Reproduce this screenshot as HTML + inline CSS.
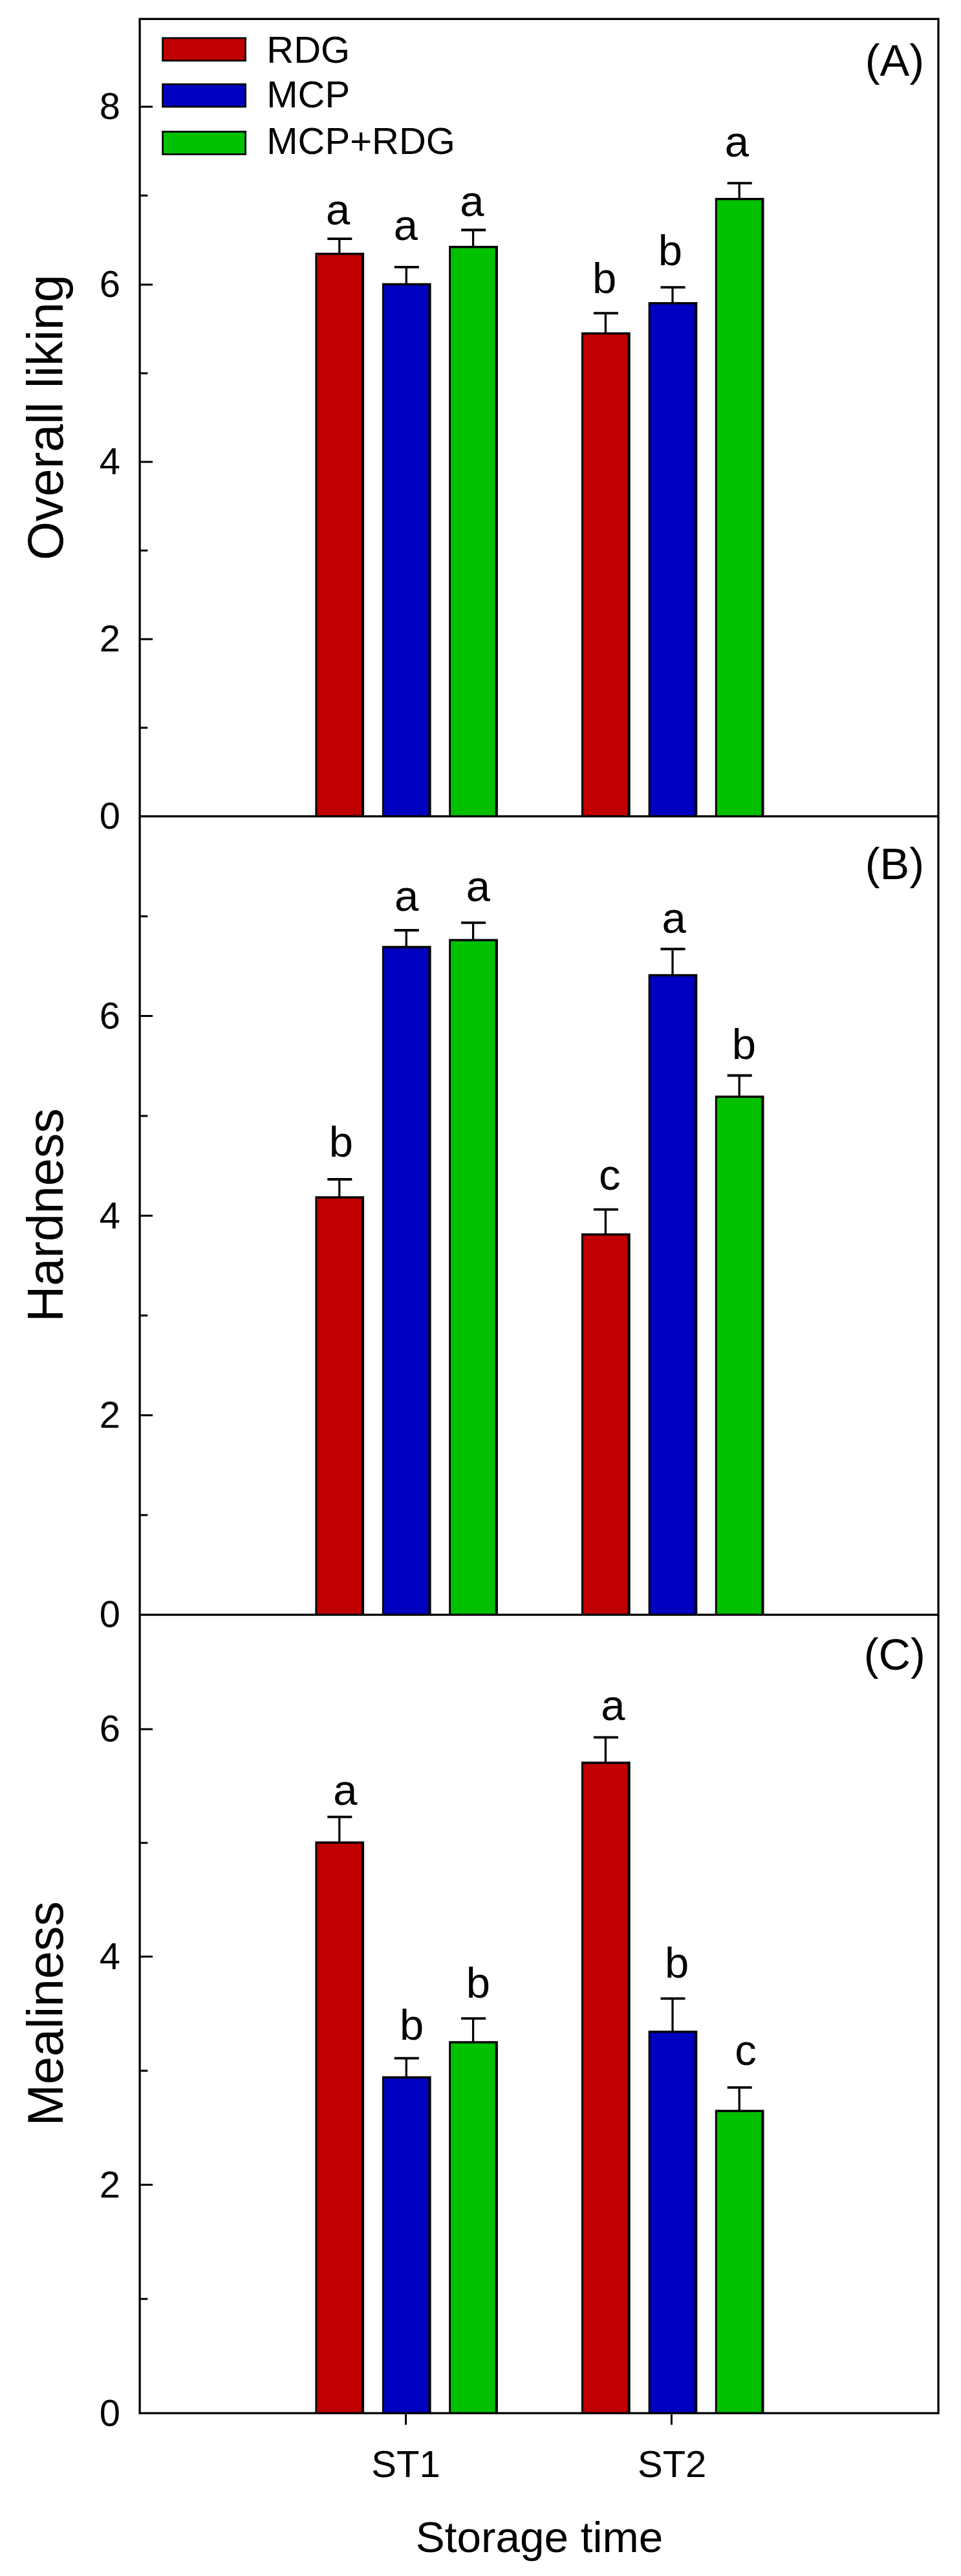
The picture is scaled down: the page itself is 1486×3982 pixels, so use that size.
<!DOCTYPE html>
<html lang="en"><head><meta charset="utf-8"><title>Sensory scores by storage time</title>
<style>html,body{margin:0;padding:0;background:#fff}svg{display:block;filter:blur(0.55px)}</style></head>
<body>
<svg width="1486" height="3982" viewBox="0 0 1486 3982" font-family="'Liberation Sans', Arial, sans-serif" fill="#000" style="font-kerning:none;font-variant-ligatures:none">
<rect x="0" y="0" width="1486" height="3982" fill="#fff"/>
<rect x="487.40" y="390.70" width="75.70" height="871.10" fill="#000"/>
<rect x="490.30" y="394.20" width="68.60" height="867.60" fill="#C00000"/>
<path d="M524.80 391.70V368.70" stroke="#000" stroke-width="3.3" fill="none"/>
<path d="M506.30 369.20H544.30" stroke="#000" stroke-width="3.8" fill="none"/>
<text x="522.70" y="347.30" font-size="67" text-anchor="middle">a</text>
<rect x="590.90" y="437.70" width="75.70" height="824.10" fill="#000"/>
<rect x="593.80" y="441.20" width="68.60" height="820.60" fill="#0000C0"/>
<path d="M628.30 438.70V412.30" stroke="#000" stroke-width="3.3" fill="none"/>
<path d="M609.80 412.80H647.80" stroke="#000" stroke-width="3.8" fill="none"/>
<text x="627.50" y="370.60" font-size="67" text-anchor="middle">a</text>
<rect x="694.20" y="380.00" width="75.70" height="881.80" fill="#000"/>
<rect x="697.10" y="383.50" width="68.60" height="878.30" fill="#00C000"/>
<path d="M731.60 381.00V355.00" stroke="#000" stroke-width="3.3" fill="none"/>
<path d="M713.10 355.50H751.10" stroke="#000" stroke-width="3.8" fill="none"/>
<text x="730.00" y="334.00" font-size="67" text-anchor="middle">a</text>
<rect x="899.00" y="513.70" width="75.70" height="748.10" fill="#000"/>
<rect x="901.90" y="517.20" width="68.60" height="744.60" fill="#C00000"/>
<path d="M936.40 514.70V483.70" stroke="#000" stroke-width="3.3" fill="none"/>
<path d="M917.90 484.20H955.90" stroke="#000" stroke-width="3.8" fill="none"/>
<text x="934.66" y="453.00" font-size="67" text-anchor="middle">b</text>
<rect x="1002.60" y="467.00" width="75.70" height="794.80" fill="#000"/>
<rect x="1005.50" y="470.50" width="68.60" height="791.30" fill="#0000C0"/>
<path d="M1040.00 468.00V443.70" stroke="#000" stroke-width="3.3" fill="none"/>
<path d="M1021.50 444.20H1059.50" stroke="#000" stroke-width="3.8" fill="none"/>
<text x="1036.26" y="410.40" font-size="67" text-anchor="middle">b</text>
<rect x="1105.80" y="305.90" width="75.70" height="955.90" fill="#000"/>
<rect x="1108.70" y="309.40" width="68.60" height="952.40" fill="#00C000"/>
<path d="M1143.20 306.90V282.60" stroke="#000" stroke-width="3.3" fill="none"/>
<path d="M1124.70 283.10H1162.70" stroke="#000" stroke-width="3.8" fill="none"/>
<text x="1139.40" y="241.60" font-size="67" text-anchor="middle">a</text>
<rect x="487.40" y="1849.20" width="75.70" height="646.90" fill="#000"/>
<rect x="490.30" y="1852.70" width="68.60" height="643.40" fill="#C00000"/>
<path d="M524.80 1850.20V1822.50" stroke="#000" stroke-width="3.3" fill="none"/>
<path d="M506.30 1823.00H544.30" stroke="#000" stroke-width="3.8" fill="none"/>
<text x="527.26" y="1788.20" font-size="67" text-anchor="middle">b</text>
<rect x="590.90" y="1462.20" width="75.70" height="1033.90" fill="#000"/>
<rect x="593.80" y="1465.70" width="68.60" height="1030.40" fill="#0000C0"/>
<path d="M628.30 1463.20V1437.50" stroke="#000" stroke-width="3.3" fill="none"/>
<path d="M609.80 1438.00H647.80" stroke="#000" stroke-width="3.8" fill="none"/>
<text x="628.70" y="1408.20" font-size="67" text-anchor="middle">a</text>
<rect x="694.20" y="1451.50" width="75.70" height="1044.60" fill="#000"/>
<rect x="697.10" y="1455.00" width="68.60" height="1041.10" fill="#00C000"/>
<path d="M731.60 1452.50V1425.90" stroke="#000" stroke-width="3.3" fill="none"/>
<path d="M713.10 1426.40H751.10" stroke="#000" stroke-width="3.8" fill="none"/>
<text x="739.40" y="1393.20" font-size="67" text-anchor="middle">a</text>
<rect x="899.00" y="1906.50" width="75.70" height="589.60" fill="#000"/>
<rect x="901.90" y="1910.00" width="68.60" height="586.10" fill="#C00000"/>
<path d="M936.40 1907.50V1869.20" stroke="#000" stroke-width="3.3" fill="none"/>
<path d="M917.90 1869.70H955.90" stroke="#000" stroke-width="3.8" fill="none"/>
<text x="942.70" y="1838.90" font-size="67" text-anchor="middle">c</text>
<rect x="1002.60" y="1505.80" width="75.70" height="990.30" fill="#000"/>
<rect x="1005.50" y="1509.30" width="68.60" height="986.80" fill="#0000C0"/>
<path d="M1040.00 1506.80V1466.50" stroke="#000" stroke-width="3.3" fill="none"/>
<path d="M1021.50 1467.00H1059.50" stroke="#000" stroke-width="3.8" fill="none"/>
<text x="1042.20" y="1441.60" font-size="67" text-anchor="middle">a</text>
<rect x="1105.80" y="1693.60" width="75.70" height="802.50" fill="#000"/>
<rect x="1108.70" y="1697.10" width="68.60" height="799.00" fill="#00C000"/>
<path d="M1143.20 1694.60V1662.00" stroke="#000" stroke-width="3.3" fill="none"/>
<path d="M1124.70 1662.50H1162.70" stroke="#000" stroke-width="3.8" fill="none"/>
<text x="1150.46" y="1637.00" font-size="67" text-anchor="middle">b</text>
<rect x="487.40" y="2846.50" width="75.70" height="883.80" fill="#000"/>
<rect x="490.30" y="2850.00" width="68.60" height="880.30" fill="#C00000"/>
<path d="M524.80 2847.50V2808.20" stroke="#000" stroke-width="3.3" fill="none"/>
<path d="M506.30 2808.70H544.30" stroke="#000" stroke-width="3.8" fill="none"/>
<text x="533.90" y="2789.60" font-size="67" text-anchor="middle">a</text>
<rect x="590.90" y="3209.50" width="75.70" height="520.80" fill="#000"/>
<rect x="593.80" y="3213.00" width="68.60" height="517.30" fill="#0000C0"/>
<path d="M628.30 3210.50V3181.20" stroke="#000" stroke-width="3.3" fill="none"/>
<path d="M609.80 3181.70H647.80" stroke="#000" stroke-width="3.8" fill="none"/>
<text x="636.56" y="3152.50" font-size="67" text-anchor="middle">b</text>
<rect x="694.20" y="3155.20" width="75.70" height="575.10" fill="#000"/>
<rect x="697.10" y="3158.70" width="68.60" height="571.60" fill="#00C000"/>
<path d="M731.60 3156.20V3119.60" stroke="#000" stroke-width="3.3" fill="none"/>
<path d="M713.10 3120.10H751.10" stroke="#000" stroke-width="3.8" fill="none"/>
<text x="739.26" y="3088.00" font-size="67" text-anchor="middle">b</text>
<rect x="899.00" y="2723.20" width="75.70" height="1007.10" fill="#000"/>
<rect x="901.90" y="2726.70" width="68.60" height="1003.60" fill="#C00000"/>
<path d="M936.40 2724.20V2685.20" stroke="#000" stroke-width="3.3" fill="none"/>
<path d="M917.90 2685.70H955.90" stroke="#000" stroke-width="3.8" fill="none"/>
<text x="947.90" y="2658.90" font-size="67" text-anchor="middle">a</text>
<rect x="1002.60" y="3139.00" width="75.70" height="591.30" fill="#000"/>
<rect x="1005.50" y="3142.50" width="68.60" height="587.80" fill="#0000C0"/>
<path d="M1040.00 3140.00V3088.80" stroke="#000" stroke-width="3.3" fill="none"/>
<path d="M1021.50 3089.30H1059.50" stroke="#000" stroke-width="3.8" fill="none"/>
<text x="1046.56" y="3056.80" font-size="67" text-anchor="middle">b</text>
<rect x="1105.80" y="3261.40" width="75.70" height="468.90" fill="#000"/>
<rect x="1108.70" y="3264.90" width="68.60" height="465.40" fill="#00C000"/>
<path d="M1143.20 3262.40V3226.40" stroke="#000" stroke-width="3.3" fill="none"/>
<path d="M1124.70 3226.90H1162.70" stroke="#000" stroke-width="3.8" fill="none"/>
<text x="1153.10" y="3191.50" font-size="67" text-anchor="middle">c</text>
<rect x="216.1" y="29.3" width="1234.90" height="3701.00" fill="none" stroke="#000" stroke-width="3.3"/>
<path d="M216.1 1261.8H1451.0M216.1 2496.1H1451.0" stroke="#000" stroke-width="3.3" fill="none"/>
<text x="186" y="1281.10" font-size="58" text-anchor="end">0</text>
<text x="186" y="1007.30" font-size="58" text-anchor="end">2</text>
<text x="186" y="733.30" font-size="58" text-anchor="end">4</text>
<text x="186" y="459.30" font-size="58" text-anchor="end">6</text>
<text x="186" y="184.30" font-size="58" text-anchor="end">8</text>
<text x="186" y="2515.40" font-size="58" text-anchor="end">0</text>
<text x="186" y="2207.00" font-size="58" text-anchor="end">2</text>
<text x="186" y="1898.60" font-size="58" text-anchor="end">4</text>
<text x="186" y="1589.70" font-size="58" text-anchor="end">6</text>
<text x="186" y="3749.60" font-size="58" text-anchor="end">0</text>
<text x="186" y="3396.50" font-size="58" text-anchor="end">2</text>
<text x="186" y="3043.80" font-size="58" text-anchor="end">4</text>
<text x="186" y="2692.30" font-size="58" text-anchor="end">6</text>
<path d="M216.1 988.00h20M216.1 714.00h20M216.1 440.00h20M216.1 165.00h20M216.1 1125.00h12.2M216.1 851.00h12.2M216.1 577.00h12.2M216.1 302.20h12.2M216.1 2187.70h20M216.1 1879.30h20M216.1 1570.40h20M216.1 2341.90h12.2M216.1 2033.50h12.2M216.1 1724.90h12.2M216.1 1416.40h12.2M216.1 3377.20h20M216.1 3024.50h20M216.1 2673.00h20M216.1 3553.70h12.2M216.1 3201.00h12.2M216.1 2848.80h12.2M627.6 3730.3v18M1038.4 3730.3v18" stroke="#000" stroke-width="3.0" fill="none"/>
<text x="627.5" y="3829.3" font-size="58" text-anchor="middle">ST1</text>
<text x="1039.2" y="3829.3" font-size="58" text-anchor="middle">ST2</text>
<text x="834" y="3944.6" font-size="67.5" text-anchor="middle">Storage time</text>
<text transform="translate(96.8 645.2) rotate(-90)" font-size="77.2" text-anchor="middle">Overall liking</text>
<text transform="translate(96.8 1878.3) rotate(-90)" font-size="77.2" text-anchor="middle">Hardness</text>
<text transform="translate(96.8 3112.6) rotate(-90)" font-size="77.2" text-anchor="middle">Mealiness</text>
<text x="1383.3" y="116.6" font-size="68.5" text-anchor="middle">(A)</text>
<text x="1383.3" y="1358.5" font-size="68.5" text-anchor="middle">(B)</text>
<text x="1383.3" y="2580.5" font-size="68.5" text-anchor="middle">(C)</text>
<rect x="251.54999999999998" y="58.85" width="128.10000000000002" height="34.90" fill="#C00000" stroke="#000" stroke-width="2.7"/>
<text x="412.3" y="96.5" font-size="58">RDG</text>
<rect x="251.54999999999998" y="130.15" width="128.10000000000002" height="34.90" fill="#0000C0" stroke="#000" stroke-width="2.7"/>
<text x="412.3" y="166.3" font-size="58">MCP</text>
<rect x="251.54999999999998" y="203.55" width="128.10000000000002" height="34.90" fill="#00C000" stroke="#000" stroke-width="2.7"/>
<text x="412.3" y="237.8" font-size="58">MCP+RDG</text>
</svg>
</body></html>
